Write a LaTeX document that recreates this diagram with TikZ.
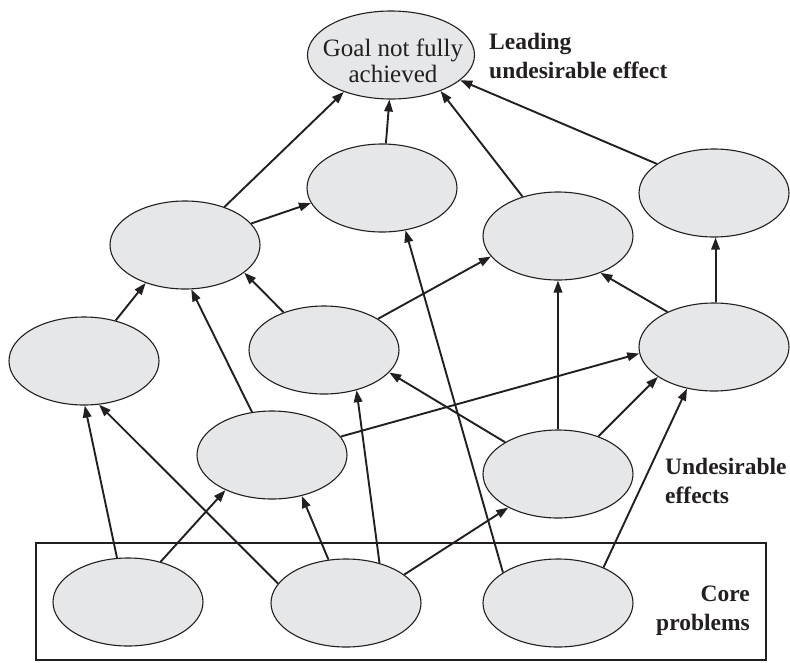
\documentclass[tikz,border=0pt]{standalone}
\usepackage{fontspec}
\setmainfont{Liberation Serif}
\usetikzlibrary{arrows.meta,shapes.geometric}
\definecolor{inkc}{RGB}{35,31,32}
\definecolor{ellfill}{RGB}{230,231,233}
\begin{document}
\begin{tikzpicture}[x=1pt,y=-1pt,
  bub/.style={ellipse,draw=inkc,line width=1.1pt,fill=ellfill,
    minimum width=150pt,minimum height=88pt,inner sep=0pt},
  link/.style={draw=inkc,line width=1.9pt,-{Triangle[length=12pt,width=8.5pt]}},
  lbl/.style={font=\fontsize{23.5}{29}\selectfont\bfseries,text=inkc,inner sep=0pt}]
\useasboundingbox (0,0) rectangle (790,662);
% core problem frame
\draw[inkc,line width=2.6pt] (36,543) rectangle (766,660);
% effects
\node[bub,minimum width=167pt] (g) at (391,55) {};
\node[inner sep=0pt,align=center,font=\fontsize{25}{26.5}\selectfont,text=inkc] (gtext) at (393,61) {Goal not fully\\achieved};
\node[bub] (e1) at (382,188) {};
\node[bub] (e2) at (714,193) {};
\node[bub] (e3) at (185,245) {};
\node[bub] (e4) at (558,236) {};
\node[bub] (e5) at (84,361) {};
\node[bub] (e6) at (324,350) {};
\node[bub] (e7) at (714,347) {};
\node[bub] (e8) at (272,455) {};
\node[bub] (e9) at (558,474) {};
% core problems
\node[bub] (c1) at (128,602) {};
\node[bub] (c2) at (346,603) {};
\node[bub] (c3) at (558,603) {};
% labels
\node[lbl,anchor=west,align=left] (lead) at (489,56) {Leading\\undesirable effect};
\node[lbl,anchor=west,align=left] (ude) at (665,481) {Undesirable\\effects};
\node[lbl,anchor=east,align=right] (core) at (750,611) {Core\\problems};
% cause-effect links
\draw[link] (e3.44) -- (g.218);
\draw[link] (e1.85) -- (g.268);
\draw[link] (e4.132) -- (g.324);
\draw[link] (e2.153) -- (g.340);
\draw[link] (e3.18) -- (e1.192);
\draw[link] (e5.52) -- (e3.224);
\draw[link] (e8.115) -- (e3.278);
\draw[link] (e6.137) -- (e3.335);
\draw[link] (e6.30) -- (e4.197);
\draw[link] (c3.151) -- (e1.299);
\draw[link] (e9.90) -- (e4.270);
\draw[link] (e7.143) -- (e4.319);
\draw[link] (e7.88) -- (e2.272);
\draw[link] (e8.15) -- (e7.185);
\draw[link] (e9.43) -- (e7.208);
\draw[link] (c3.38) -- (e7.237);
\draw[link] (e9.149) -- (e6.341);
\draw[link] (c1.104) -- (e5.271);
\draw[link] (c2.164) -- (e5.289);
\draw[link] (c2.50) -- (e6.309);
\draw[link] (c1.51) -- (e8.217);
\draw[link] (c2.112) -- (e8.306);
\draw[link] (c2.26) -- (e9.214);
\end{tikzpicture}
\end{document}
